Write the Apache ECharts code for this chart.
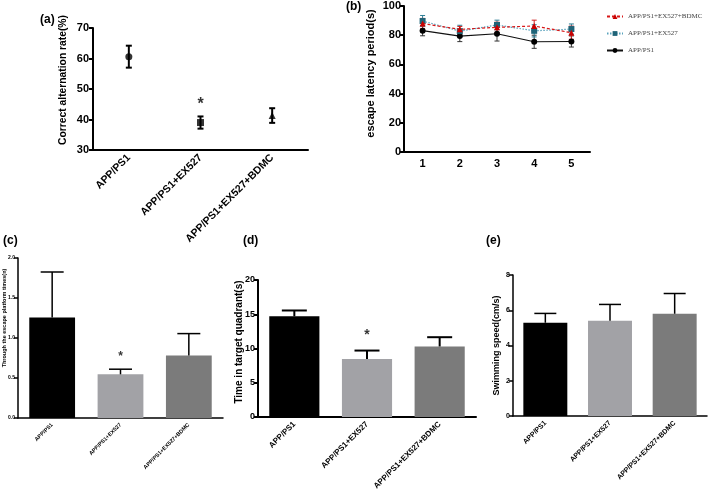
<!DOCTYPE html>
<html><head><meta charset="utf-8">
<script src="https://cdn.jsdelivr.net/npm/echarts@6/dist/echarts.min.js"></script>
<style>html,body{margin:0;padding:0;background:#fff}#c{width:709px;height:494px}</style>
</head><body><div id="c"></div>
<script>
// ---- data ----
var groups = ['APP/PS1', 'APP/PS1+EX527', 'APP/PS1+EX527+BDMC'];
var altMean = [60.6, 39.0, 41.3];
var altErr = [3.6, 2.0, 2.4];
var days = ['1', '2', '3', '4', '5'];
var latApp = [83.1, 79.4, 81.0, 75.5, 75.7];
var latAppErr = [3.5, 3.8, 5.0, 4.5, 3.8];
var latEx = [89.7, 82.8, 87.0, 83.0, 84.2];
var latExErr = [3.8, 4.0, 3.3, 4.2, 3.5];
var latBd = [88.0, 84.0, 85.4, 86.3, 81.7];
var latBdErr = [3.5, 2.0, 3.5, 4.0, 4.5];
var platMean = [1.255, 0.546, 0.78];
var platErr = [0.57, 0.064, 0.275];
var quadMean = [14.7, 8.45, 10.3];
var quadErr = [0.85, 1.25, 1.35];
var speedMean = [5.29, 5.4, 5.8];
var speedErr = [0.53, 0.93, 1.15];
var sigA = [1];   // index marked with *
var sigC = [1];
var sigD = [1];

var FONT = "'Liberation Sans', Arial, sans-serif";
var barColors = ['#000000', '#a2a2a6', '#7b7b7b'];

function errRender(cap, lw, color, twoSided) {
  return function (params, api) {
    var i = api.value(0), m = api.value(1), e = api.value(2);
    var top = api.coord([i, m + e]);
    var bot = api.coord(twoSided ? [i, m - e] : [i, m]);
    var st = {stroke: color, lineWidth: lw};
    var ch = [
      {type: 'line', shape: {x1: top[0], y1: top[1], x2: bot[0], y2: bot[1]}, style: st},
      {type: 'line', shape: {x1: top[0] - cap / 2, y1: top[1], x2: top[0] + cap / 2, y2: top[1]}, style: st}
    ];
    if (twoSided) ch.push({type: 'line', shape: {x1: bot[0] - cap / 2, y1: bot[1], x2: bot[0] + cap / 2, y2: bot[1]}, style: st});
    return {type: 'group', children: ch};
  };
}
function errData(mean, err) { return mean.map(function (m, i) { return [i, m, err[i]]; }); }
function sigData(idx, yv) { return idx.map(function (i) { return [i, yv]; }); }
function barData(mean) { return mean.map(function (v, i) { return {value: v, itemStyle: {color: barColors[i]}}; }); }

function catAxis(gi, data, fs, lw, rot) {
  return {type: 'category', gridIndex: gi, data: data,
    axisLine: {lineStyle: {color: '#000', width: lw}},
    axisTick: {alignWithLabel: true, length: 4, lineStyle: {width: lw}},
    axisLabel: {interval: 0, rotate: rot, fontSize: fs, fontWeight: 'bold', color: '#000', fontFamily: FONT, margin: 6},
    splitLine: {show: false}};
}
function valAxis(gi, min, max, iv, fs, lw, name, nfs, gap, shift, margin, fmt) {
  return {type: 'value', gridIndex: gi, min: min, max: max, interval: iv,
    name: name, nameLocation: 'middle', nameGap: gap, nameMoveOverlap: false,
    nameTextStyle: {fontSize: nfs, fontWeight: 'bold', color: '#000', fontFamily: FONT, padding: [0, 0, 0, shift]},
    axisLine: {show: true, lineStyle: {color: '#000', width: lw}},
    axisTick: {show: true, length: 4, lineStyle: {width: lw}},
    axisLabel: {fontSize: fs, fontWeight: 'bold', color: '#000', fontFamily: FONT, margin: margin,
      formatter: fmt || null},
    splitLine: {show: false}};
}

var option = {
  animation: false,
  backgroundColor: '#fff',
  grid: [
    {left: 93, top: 28, width: 215, height: 122},
    {left: 404, top: 6, width: 186, height: 146},
    {left: 18, top: 258, width: 205, height: 160},
    {left: 258, top: 280, width: 218, height: 137},
    {left: 513, top: 275, width: 194, height: 141}
  ],
  xAxis: [
    catAxis(0, groups, 10.5, 2, 45),
    catAxis(1, days, 11, 2, 0),
    catAxis(2, groups, 5.5, 1.5, 45),
    catAxis(3, groups, 8, 2, 45),
    catAxis(4, groups, 7, 1.5, 45)
  ],
  yAxis: [
    valAxis(0, 30, 70, 10, 11, 2, 'Correct alternation rate(%)', 10.3, 25, 18, 4),
    valAxis(1, 0, 100, 20, 11, 2, 'escape latency period(s)', 11, 28, 11, 3),
    valAxis(2, 0, 2, 0.5, 5, 1.5, 'Through the escape platform times(n)', 5.5, 11, 40, 3, function (v) { return v.toFixed(1); }),
    valAxis(3, 0, 20, 5, 9, 2, 'Time in target quadrant(s)', 10, 14, 13, 3),
    valAxis(4, 0, 8, 2, 7, 1.5, 'Swimming speed(cm/s)', 9, 11.5, 0, 3)
  ],
  legend: {
    orient: 'vertical', left: 601, top: 8, itemWidth: 16, itemHeight: 6, itemGap: 10,
    data: ['APP/PS1+EX527+BDMC', 'APP/PS1+EX527', 'APP/PS1'],
    textStyle: {fontFamily: "'Liberation Serif', 'Times New Roman', serif", fontSize: 7, color: '#444'}
  },
  graphic: [
    {type: 'text', left: 40, top: 14, style: {text: '(a)', font: 'bold 12px ' + FONT, fill: '#000'}},
    {type: 'text', left: 346, top: 1, style: {text: '(b)', font: 'bold 12px ' + FONT, fill: '#000'}},
    {type: 'text', left: 3, top: 235, style: {text: '(c)', font: 'bold 12px ' + FONT, fill: '#000'}},
    {type: 'text', left: 243, top: 235, style: {text: '(d)', font: 'bold 12px ' + FONT, fill: '#000'}},
    {type: 'text', left: 486, top: 235, style: {text: '(e)', font: 'bold 12px ' + FONT, fill: '#000'}}
  ],
  series: [
    // (a)
    {type: 'custom', xAxisIndex: 0, yAxisIndex: 0, data: errData(altMean, altErr), renderItem: errRender(6, 2, '#000', true), z: 3},
    {type: 'scatter', xAxisIndex: 0, yAxisIndex: 0, symbolSize: 0,
      data: altMean.map(function (v, i) { return {value: [i, v], symbol: ['circle', 'rect', 'triangle'][i], symbolSize: 7}; }),
      itemStyle: {color: '#000'}, z: 4},
    {type: 'scatter', xAxisIndex: 0, yAxisIndex: 0, symbolSize: 0, data: sigData(sigA, 45.0),
      label: {show: true, formatter: '*', position: 'inside', fontSize: 16, fontWeight: 'bold', color: '#000', fontFamily: FONT}},
    // (b)
    {name: 'APP/PS1+EX527+BDMC', type: 'line', xAxisIndex: 1, yAxisIndex: 1, data: latBd, symbol: 'triangle', symbolSize: 6,
      itemStyle: {color: '#c80000'}, lineStyle: {color: '#d81818', width: 1.2, type: [3, 2]}, z: 5},
    {name: 'APP/PS1+EX527', type: 'line', xAxisIndex: 1, yAxisIndex: 1, data: latEx, symbol: 'rect', symbolSize: 6,
      itemStyle: {color: '#1f6478'}, lineStyle: {color: '#5aa3bd', width: 1.2, type: [1.5, 1.5]}, z: 4},
    {name: 'APP/PS1', type: 'line', xAxisIndex: 1, yAxisIndex: 1, data: latApp, symbol: 'circle', symbolSize: 6,
      itemStyle: {color: '#000'}, lineStyle: {color: '#111', width: 1.2}, z: 3},
    {type: 'custom', xAxisIndex: 1, yAxisIndex: 1, data: errData(latApp, latAppErr), renderItem: errRender(5, 1, '#333', true), z: 2},
    {type: 'custom', xAxisIndex: 1, yAxisIndex: 1, data: errData(latEx, latExErr), renderItem: errRender(5, 1, '#2f7f95', true), z: 2},
    {type: 'custom', xAxisIndex: 1, yAxisIndex: 1, data: errData(latBd, latBdErr), renderItem: errRender(5, 1, '#d02020', true), z: 2},
    // (c)
    {type: 'bar', xAxisIndex: 2, yAxisIndex: 2, data: barData(platMean), barWidth: '67%'},
    {type: 'custom', xAxisIndex: 2, yAxisIndex: 2, data: errData(platMean, platErr), renderItem: errRender(23, 1.5, '#000', false), z: 3},
    {type: 'scatter', xAxisIndex: 2, yAxisIndex: 2, symbolSize: 0, data: sigData(sigC, 0.77),
      label: {show: true, formatter: '*', position: 'inside', fontSize: 12, fontWeight: 'bold', color: '#000', fontFamily: FONT}},
    // (d)
    {type: 'bar', xAxisIndex: 3, yAxisIndex: 3, data: barData(quadMean), barWidth: '69%'},
    {type: 'custom', xAxisIndex: 3, yAxisIndex: 3, data: errData(quadMean, quadErr), renderItem: errRender(25, 2, '#000', false), z: 3},
    {type: 'scatter', xAxisIndex: 3, yAxisIndex: 3, symbolSize: 0, data: sigData(sigD, 11.9),
      label: {show: true, formatter: '*', position: 'inside', fontSize: 14, fontWeight: 'bold', color: '#000', fontFamily: FONT}},
    // (e)
    {type: 'bar', xAxisIndex: 4, yAxisIndex: 4, data: barData(speedMean), barWidth: '68%'},
    {type: 'custom', xAxisIndex: 4, yAxisIndex: 4, data: errData(speedMean, speedErr), renderItem: errRender(22, 1.5, '#000', false), z: 3}
  ]
};
var chart = echarts.init(document.getElementById('c'), null, {renderer: 'canvas'});
chart.setOption(option);
</script></body></html>
